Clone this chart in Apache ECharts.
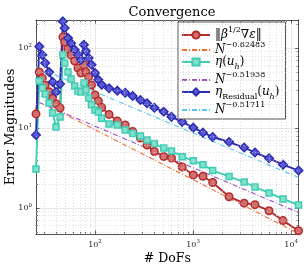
<!DOCTYPE html>
<html><head><meta charset="utf-8">
<script src="https://cdn.jsdelivr.net/npm/echarts@6/dist/echarts.min.js"></script>
<style>html,body{margin:0;padding:0;background:#fff}#c{width:304px;height:268px}</style>
</head><body><div id="c"></div>
<script>
// ---- data ----
const dofs = [25,27,29,31,34,37,40,44,47,49,53,57,62,67,72,77,81,86,92,100,108,117,139,169,203,242,290,339,403,502,602,774,1005,1261,1585,2328,3319,4276,5946,8272,11890];
const errEnergy = [15.0,50.1,42.2,34.5,28.4,23.5,20.0,17.8,137,119,97.2,81.7,68.8,56.2,48.7,61.3,50.1,43.4,34.5,25.9,21.8,18.0,14.8,12.2,10.9,9.04,7.50,6.13,5.09,4.40,4.22,3.25,2.59,2.49,2.08,1.38,1.15,1.10,0.925,0.696,0.520];
const etaEst = [3.07,38.7,31.6,26.6,20.5,15.4,10.3,13.7,82.5,64.9,50.1,41.0,33.5,29.0,28.2,36.5,29.9,23.7,19.5,16.8,15.8,13.2,11.2,10.9,9.44,8.54,7.94,7.08,6.40,5.62,5.16,4.38,3.90,3.48,2.94,2.48,2.11,1.83,1.54,1.30,1.09];
const etaResidual = [8.17,104.4,81.7,64.9,50.1,37.6,28.2,35.5,215,178,133,115,95.2,82.5,71.4,110,91,75,61.8,48.7,40.2,34.8,31.4,29.3,27.6,25.1,22.4,20.4,17.9,16.0,13.8,11.9,10.1,8.74,7.72,6.68,5.70,4.94,4.18,3.48,2.94];
const fitErrN = [44, 11890], fitErrV = [15.9, 0.48];
const fitEtaN = [27, 11890], fitEtaV = [20.8, 0.88];
const fitResN = [25, 11890], fitResV = [58.0, 2.41];
const xMajorTicks = [100, 1000, 10000];
const xMinorTicks = [30,40,50,60,70,80,90,200,300,400,500,600,700,800,900,2000,3000,4000,5000,6000,7000,8000,9000];
const yMajorTicks = [1, 10, 100];
const yMinorTicks = [0.5,0.6,0.7,0.8,0.9,2,3,4,5,6,7,8,9,20,30,40,50,60,70,80,90,200];
const xRange = [25, 11890];
const yRange = [0.473, 224];

const zip = (a, b) => a.map((v, i) => [v, b[i]]);
const FONT = 'DejaVu Serif';
const frame = '#262626';
const supLabel = v => { const e = Math.round(Math.log10(v)); return (Math.abs(Math.log10(v) - e) < 1e-6) ? '{b|10}{e|' + e + '}' : ''; };
const labelRich = { b: { fontSize: 8, fontFamily: FONT, color: '#262626', lineHeight: 11 }, e: { fontSize: 5.5, fontFamily: FONT, color: '#262626', verticalAlign: 'top' } };

function axis(dim, pos, ticks, len, main) {
  return {
    type: 'log', min: dim === 'x' ? xRange[0] : yRange[0], max: dim === 'x' ? xRange[1] : yRange[1],
    position: pos, gridIndex: 0,
    axisLine: { show: main, onZero: false, lineStyle: { color: frame, width: 0.8 } },
    axisTick: { show: true, inside: true, length: len, customValues: ticks, lineStyle: { color: frame, width: 0.7 } },
    axisLabel: { show: false },
    splitLine: { show: false },
    minorTick: { show: false }
  };
}
const xb = axis('x', 'bottom', xMajorTicks, 3.5, true);
xb.axisLabel = { show: true, customValues: xMajorTicks, formatter: supLabel, rich: labelRich, margin: 5 };
xb.splitLine = { show: true, lineStyle: { color: '#e2e2e2', width: 0.8 } };
xb.name = '# DoFs'; xb.nameLocation = 'middle'; xb.nameGap = 18; xb.nameMoveOverlap = false;
xb.nameTextStyle = { fontFamily: FONT, fontSize: 12.5, color: '#000' };
const yl = axis('y', 'left', yMajorTicks, 3.5, true);
yl.axisLabel = { show: true, customValues: yMajorTicks, formatter: supLabel, rich: labelRich, margin: 4 };
yl.splitLine = { show: true, lineStyle: { color: '#e2e2e2', width: 0.8 } };
yl.name = 'Error Magnitudes'; yl.nameLocation = 'middle'; yl.nameGap = 19; yl.nameMoveOverlap = false;
yl.nameTextStyle = { fontFamily: FONT, fontSize: 12.8, color: '#000' };

const legendMap = {
  'err': '{r|‖}{m|β}{sp|1/2}{r|∇}{m|ε}{r|‖}',
  'errFit': '{m|N}{sp|−0.62483}',
  'eta': '{m|η}{r|(}{m|u}{sb|h}{r|)}',
  'etaFit': '{m|N}{sp|−0.51938}',
  'res': '{m|η}{sbr|Residual}{r|(}{m|u}{sb|h}{r|)}',
  'resFit': '{m|N}{sp|−0.51711}'
};

function dataSeries(name, data, color, fill, symbol, size) {
  return { name, type: 'line', data, xAxisIndex: 0, yAxisIndex: 0, symbol, symbolSize: size, showSymbol: true,
    lineStyle: { color, width: 1.9 }, itemStyle: { color: fill, borderColor: color, borderWidth: 1.5 }, z: 3 };
}
function fitSeries(name, data, color) {
  return { name, type: 'line', data, xAxisIndex: 0, yAxisIndex: 0, symbol: 'none', showSymbol: false,
    lineStyle: { color, width: 1.1, type: [5, 2, 1, 2] }, itemStyle: { color }, z: 3 };
}

const chart = echarts.init(document.getElementById('c'), null, { renderer: 'canvas' });
chart.setOption({
  animation: false,
  backgroundColor: '#fff',
  title: { text: 'Convergence', left: 167, top: 1, textAlign: 'center',
    textStyle: { fontFamily: FONT, fontSize: 13, fontWeight: 'normal', color: '#000' } },
  grid: { left: 36, right: 5.5, top: 20, bottom: 34, containLabel: false, outerBoundsMode: 'none' },
  xAxis: [xb, axis('x', 'bottom', xMinorTicks, 2, false), axis('x', 'top', xMajorTicks, 3.5, true), axis('x', 'top', xMinorTicks, 2, false)],
  yAxis: [yl, axis('y', 'left', yMinorTicks, 2, false), axis('y', 'right', yMajorTicks, 3.5, true), axis('y', 'right', yMinorTicks, 2, false)],
  legend: {
    data: [
      { name: 'err' },
      { name: 'errFit', itemStyle: { opacity: 0 } },
      { name: 'eta' },
      { name: 'etaFit', itemStyle: { opacity: 0 } },
      { name: 'res' },
      { name: 'resFit', itemStyle: { opacity: 0 } }
    ],
    orient: 'vertical', left: 178, top: 22, itemWidth: 28, itemHeight: 9, itemGap: 0,
    padding: [4, 6, 3, 3],
    backgroundColor: '#fff', borderColor: frame, borderWidth: 0.8, borderRadius: 0,
    formatter: n => legendMap[n],
    textStyle: { fontFamily: FONT, fontSize: 12, color: '#000',
      rich: {
        m: { fontFamily: FONT, fontSize: 12, fontStyle: 'italic', lineHeight: 18 },
        r: { fontFamily: FONT, fontSize: 12, lineHeight: 18 },
        sp: { fontFamily: FONT, fontSize: 8, verticalAlign: 'top' },
        sb: { fontFamily: FONT, fontSize: 8, fontStyle: 'italic', verticalAlign: 'bottom' },
        sbr: { fontFamily: FONT, fontSize: 8, verticalAlign: 'bottom' }
      } }
  },
  series: [
    { name: 'grid', type: 'line', data: [[xRange[0], yRange[0]]], showSymbol: false, symbol: 'none', z: 1,
      lineStyle: { opacity: 0 }, silent: true,
      markLine: { silent: true, symbol: ['none', 'none'], label: { show: false }, animation: false,
        lineStyle: { type: [1, 2], color: '#c8c8c8', width: 0.6 }, emphasis: { disabled: true },
        data: xMinorTicks.map(v => ({ xAxis: v })).concat(yMinorTicks.map(v => ({ yAxis: v }))) } },
    dataSeries('err', zip(dofs, errEnergy), '#B52A2A', '#D27070', 'circle', 7.5),
    fitSeries('errFit', zip(fitErrN, fitErrV), '#F26B2A'),
    dataSeries('eta', zip(dofs, etaEst), '#3CCDB2', '#7FE0CE', 'rect', 6),
    fitSeries('etaFit', zip(fitEtaN, fitEtaV), '#9D4FBF'),
    dataSeries('res', zip(dofs, etaResidual), '#2B2BB2', '#5A5AD6', 'diamond', 8.5),
    fitSeries('resFit', zip(fitResN, fitResV), '#55C6F2')
  ]
});
</script></body></html>
